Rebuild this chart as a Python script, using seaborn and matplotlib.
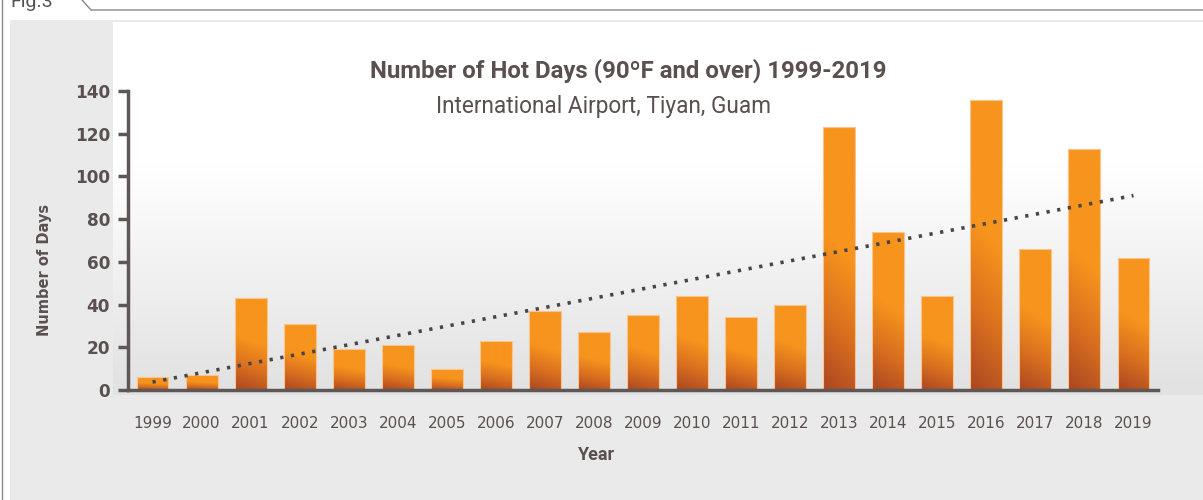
import numpy as np
import pandas as pd
import seaborn as sns
import matplotlib
matplotlib.use("Agg")
from matplotlib import pyplot as plt
from matplotlib.colors import LinearSegmentedColormap
from matplotlib.lines import Line2D

years = [str(y) for y in range(1999, 2020)]
hot_days = [6, 7, 43, 31, 19, 21, 10, 23, 37, 27, 35, 44, 34, 40, 123, 74, 44, 136, 66, 113, 62]
y_ticks = [0, 20, 40, 60, 80, 100, 120, 140]

title = "Number of Hot Days (90ºF and over) 1999-2019"
subtitle = "International Airport, Tiyan, Guam"

txt = "#5a5050"
W, H = 1203, 500

sns.set_style("white")
plt.rcParams['font.family'] = ['DejaVu Sans']

fig = plt.figure(figsize=(W / 100, H / 100), dpi=100)
fig.patch.set_facecolor("#ffffff")

# background panels
bg = fig.add_axes([10 / W, 0, 1 - 10 / W, (H - 20) / H], zorder=-2)
bg.set_axis_off()
bg.add_patch(plt.Rectangle((0, 0), 1, 1, transform=bg.transAxes, color="#ebeaea"))

grad = fig.add_axes([113 / W, (H - 395) / H, 1 - 113 / W, (395 - 22) / H], zorder=-1)
g = np.linspace(0, 1, 256)
g = np.clip((g - 0.38) / 0.6, 0, 1)[:, None]
bgcmap = LinearSegmentedColormap.from_list("bgc", ["#ffffff", "#e2e2e2"])
grad.imshow(g, cmap=bgcmap, aspect="auto", extent=[0, 1, 0, 1], vmin=0, vmax=1)
grad.set_axis_off()

# main axes
ax = fig.add_axes([128 / W, (H - 390) / H, (1158 - 128) / W, (390 - 91) / H])
ax.patch.set_alpha(0)

df = pd.DataFrame({"Year": years, "Days": hot_days})
sns.barplot(data=df, x="Year", y="Days", color="#f7941d", width=0.65, ax=ax,
            saturation=1, edgecolor="#f9c490", linewidth=0.8)

barcmap = LinearSegmentedColormap.from_list("bar", ["#ab4622", "#d9701f", "#f7941d"])
for p in ax.patches:
    x0, w, h = p.get_x(), p.get_width(), p.get_height()
    t = np.linspace(0, 1, 200)[:, None]
    s = np.linspace(0, 1, 20)[None, :]
    f = np.clip((t + 0.12 * s) / 0.6, 0, 1)
    im = ax.imshow(f[::-1], cmap=barcmap, aspect="auto", extent=[x0, x0 + w, 0, h],
                   vmin=0, vmax=1, zorder=1)
    im.set_clip_path(p)
    p.set_facecolor("none")
    p.set_zorder(2)

# linear trend
xi = np.arange(len(hot_days))
k, b = np.polyfit(xi, hot_days, 1)
ax.plot(xi, k * xi + b, color="#4a4545", lw=2.6, linestyle=(0, (0.9, 2.1)),
        dash_capstyle="butt", zorder=3)

ax.set_xlim(-0.5, len(years) - 0.5)
ax.set_ylim(0, 140)
ax.set_yticks(y_ticks)
ax.set_yticklabels([str(v) for v in y_ticks], fontsize=12.2, fontweight="bold", color=txt)
ax.set_xticks(xi)
ax.set_xticklabels(years, fontsize=11, color=txt)
ax.set_xticks(np.arange(-0.5, len(years)), minor=True)
ax.tick_params(axis="x", which="major", length=0, pad=19)
ax.tick_params(axis="x", which="minor", length=6, width=2.5, color="#5f5656", direction="out")
ax.tick_params(axis="y", length=7, width=2.5, color="#5f5656", direction="out", pad=6, left=True)

for side in ["top", "right"]:
    ax.spines[side].set_visible(False)
for side in ["left", "bottom"]:
    ax.spines[side].set_color("#5f5656")
    ax.spines[side].set_linewidth(2.5)

ax.set_xlabel("")
ax.set_ylabel("")
fig.text(45 / W, 1 - 270 / H, "Number of Days", rotation=90, ha="center", va="center",
         fontsize=10.5, fontweight="bold", color=txt)
fig.text(597 / W, 1 - 455 / H, "Year", ha="center", va="center",
         fontsize=13, fontweight="bold", color=txt, family="Roboto")

fig.text(628 / W, 1 - 71 / H, title, ha="center", va="center", fontsize=17.3,
         fontweight="bold", color=txt, family="Roboto")
fig.text(604 / W, 1 - 107 / H, subtitle, ha="center", va="center", fontsize=16.3,
         color=txt, family="Roboto")

# figure frame with tab
fig.text(10 / W, 1 - 7 / H, "Fig.3", ha="left", va="baseline", fontsize=14,
         color="#555050", family="Roboto")
frame = "#8a8686"
fig.add_artist(Line2D([2 / W, 2 / W], [0, 1], transform=fig.transFigure, color=frame, lw=1))
fig.add_artist(Line2D([82 / W, 91 / W, 1], [1, 1 - 10 / H, 1 - 10 / H],
                      transform=fig.transFigure, color=frame, lw=1))

fig.savefig("out.png", dpi=100)
